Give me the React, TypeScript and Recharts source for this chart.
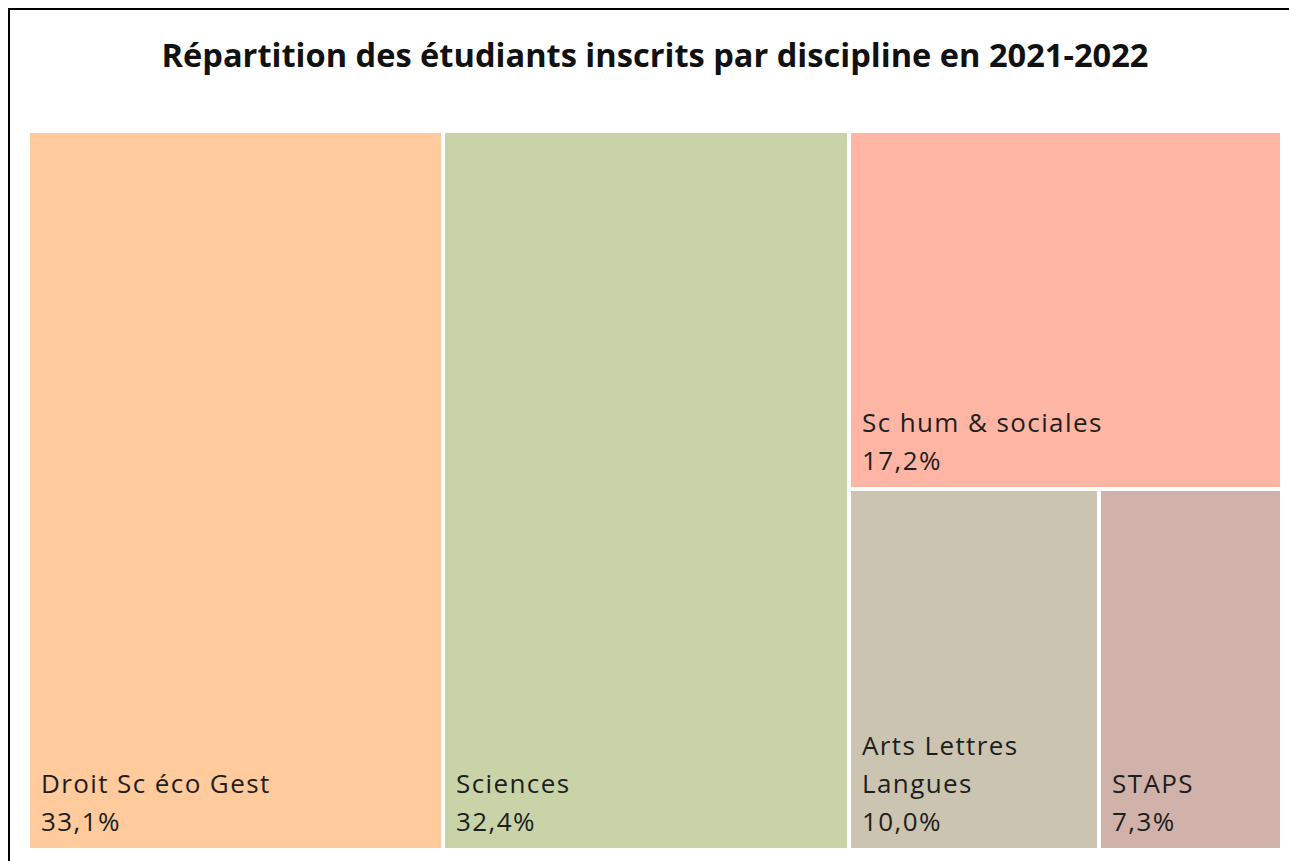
import { Treemap } from "recharts";

const CATEGORIES = ["Droit Sc éco Gest", "Sciences", "Sc hum & sociales", "Arts Lettres Langues", "STAPS"];
const SHARES = [33.1, 32.4, 17.2, 10.0, 7.3];
const COLORS = ["#FFCA9C", "#C8D4A7", "#FFB5A4", "#CAC4B0", "#D1B2AB"];

const TITLE = "Répartition des étudiants inscrits par discipline en 2021-2022";
const FONT = "'Open Sans', 'Noto Sans', sans-serif";
const LABEL_SIZE = 26;
const LINE_H = 38;

const data = CATEGORIES.map((name, i) => ({ name, size: SHARES[i], colorIndex: i }));

const fmt = (v: number) => v.toFixed(1).replace(".", ",") + "%";

// greedy word wrap, rough char-width estimate
function wrap(text: string, maxW: number) {
  const words = text.split(" ");
  const lines: string[] = [];
  let cur = "";
  for (const w of words) {
    const next = cur ? cur + " " + w : w;
    if (cur && next.length * LABEL_SIZE * 0.55 > maxW) {
      lines.push(cur);
      cur = w;
    } else cur = next;
  }
  if (cur) lines.push(cur);
  return lines;
}

function Cell(props: any) {
  const { x, y, width, height, depth, name, size, colorIndex } = props;
  if (depth !== 1) return <g />;
  const lines = [...wrap(name, width - 24), fmt(size)];
  const bottom = y + height - 19;
  return (
    <g>
      <rect x={x} y={y} width={width} height={height} fill={COLORS[colorIndex]} stroke="#fff" strokeWidth={4} />
      {lines.map((l, i) => (
        <text
          key={i}
          x={x + 13}
          y={bottom - (lines.length - 1 - i) * LINE_H}
          fill="#1e1e1e"
          stroke="none"
          fontSize={LABEL_SIZE}
          letterSpacing={1.4}
          fontFamily={FONT}
        >
          {l}
        </text>
      ))}
    </g>
  );
}

export default function App() {
  return (
    <div
      style={{
        position: "fixed",
        left: 8,
        top: 8,
        width: 1281,
        height: 853,
        borderLeft: "2px solid #000",
        borderTop: "2px solid #000",
        boxSizing: "border-box",
        background: "#fff",
        overflow: "hidden",
      }}
    >
      <div
        style={{
          position: "absolute",
          top: 22,
          left: 0,
          width: 1290,
          textAlign: "center",
          fontFamily: FONT,
          fontWeight: 700,
          fontSize: 32.6,
          color: "#111",
        }}
      >
        {TITLE}
      </div>
      <div style={{ position: "absolute", left: 18, top: 121 }}>
        <Treemap
          width={1254}
          height={719}
          data={data}
          dataKey="size"
          nameKey="name"
          aspectRatio={1}
          stroke="#fff"
          isAnimationActive={false}
          content={<Cell />}
        />
      </div>
    </div>
  );
}
